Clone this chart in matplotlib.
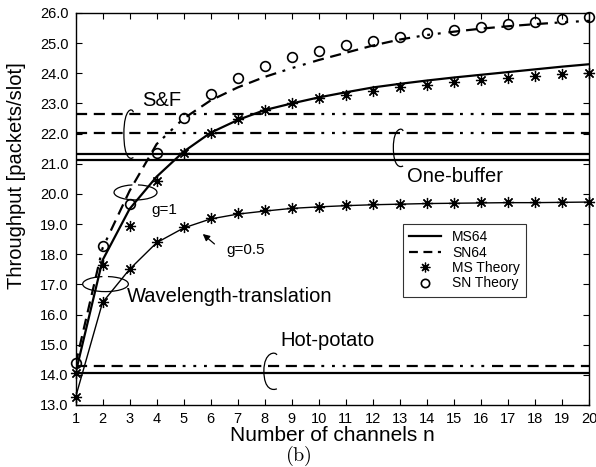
import numpy as np
import matplotlib
matplotlib.use("Agg")
import matplotlib.pyplot as plt
from matplotlib.lines import Line2D
from matplotlib.patches import Arc, PathPatch
from matplotlib.path import Path
from matplotlib.legend_handler import HandlerLine2D

plt.rcParams['font.family'] = ['Liberation Sans', 'DejaVu Sans']
plt.rcParams['mathtext.fontset'] = 'cm'

# number of channels
n = np.arange(1, 21)

# g = 1 curves
ms64_g1 = [14.05, 17.8, 19.5, 20.57, 21.4, 22.03, 22.45, 22.78, 23.0, 23.2,
           23.37, 23.53, 23.65, 23.76, 23.86, 23.95, 24.04, 24.13, 24.22, 24.3]
sn64_g1 = [14.35, 18.2, 20.1, 21.65, 22.5, 23.1, 23.53, 23.88, 24.17, 24.44,
           24.68, 24.92, 25.12, 25.27, 25.38, 25.48, 25.56, 25.63, 25.69, 25.74]
ms_theory_g1 = [14.05, 17.64, 18.95, 20.42, 21.37, 22.03, 22.5, 22.78, 23.03, 23.17,
                23.28, 23.41, 23.53, 23.61, 23.71, 23.79, 23.86, 23.91, 23.97, 24.02]
sn_theory_g1 = [14.38, 18.27, 19.68, 21.37, 22.52, 23.3, 23.86, 24.23, 24.53, 24.75,
                24.95, 25.07, 25.21, 25.33, 25.44, 25.53, 25.64, 25.71, 25.79, 25.88]

# g = 0.5 curves
ms64_g05 = [13.25, 16.4, 17.5, 18.38, 18.87, 19.17, 19.33, 19.43, 19.52, 19.57,
            19.61, 19.64, 19.66, 19.68, 19.69, 19.7, 19.71, 19.71, 19.72, 19.73]
ms_theory_g05 = [13.25, 16.4, 17.5, 18.4, 18.89, 19.19, 19.36, 19.47, 19.54, 19.58,
                 19.62, 19.66, 19.68, 19.71, 19.71, 19.72, 19.72, 19.72, 19.73, 19.74]

# constant schemes: (MS64, SN64)
hot_potato = [14.05, 14.30]
one_buffer = [21.11, 21.33]
store_fwd = [22.03, 22.65]

yticks = np.arange(13.0, 26.5, 1.0)

DASH = (0, (5, 3, 5, 3, 5, 3, 5, 3, 5, 3, 5, 3, 1.3, 3.5, 1.3, 3.5, 1.3, 3.5))
LW = 1.6
STAR = (8, 2, 0)  # matlab style asterisk


class RightMarker(HandlerLine2D):
    # legend marker drawn at the right end of the sample, like the original
    def get_xdata(self, legend, xdescent, ydescent, width, height, fontsize):
        xdata = np.array([-xdescent, -xdescent + width])
        return xdata, np.array([-xdescent + width - 1.5])


def bracket(ax, xl, xr, yt, yb, lw=0.9):
    ym = (yt + yb) / 2
    h = yt - yb
    verts = [(xr, yt - 0.08 * h), (xr - 0.1 * (xr - xl), yt + 0.02 * h), (xl, yt), (xl, ym),
             (xl, yb), (xr - 0.3 * (xr - xl), yb - 0.02 * h), (xr, yb + 0.03 * h)]
    codes = [Path.MOVETO] + [Path.CURVE4] * 6
    ax.add_patch(PathPatch(Path(verts, codes), fill=False, lw=lw, color='k', clip_on=False))


fig = plt.figure(figsize=(5.96, 4.67), dpi=100)
ax = fig.add_axes([0.1267, 0.1328, 0.8616, 0.8394])

# horizontal reference schemes
ax.axhline(hot_potato[0], color='k', lw=LW)
ax.axhline(hot_potato[1], color='k', lw=LW, ls=DASH)
ax.axhline(one_buffer[0], color='k', lw=LW)
ax.axhline(one_buffer[1], color='k', lw=LW)
ax.axhline(store_fwd[0], color='k', lw=LW, ls=DASH)
ax.axhline(store_fwd[1], color='k', lw=LW, ls=DASH)

# wavelength translation curves
ax.plot(n, ms64_g1, color='k', lw=LW)
ax.plot(n, sn64_g1, color='k', lw=LW, ls=DASH)
ax.plot(n, ms64_g05, color='k', lw=1.0)
ax.plot(n, ms_theory_g1, ls='none', marker=STAR, ms=8, mew=0.9, color='k', clip_on=False)
ax.plot(n, ms_theory_g05, ls='none', marker=STAR, ms=8, mew=0.9, color='k', clip_on=False)
ax.plot(n, sn_theory_g1, ls='none', marker='o', ms=7, mew=1.2, mfc='none', mec='k', clip_on=False)

ax.set_xlim(1, 20)
ax.set_ylim(13, 26)
ax.set_xticks(n)
ax.set_yticks(yticks)
ax.set_yticklabels(['%.1f' % v for v in yticks])
ax.tick_params(direction='in', length=4, width=0.8, top=True, right=True,
               labelsize=10.5, pad=5)
for s in ax.spines.values():
    s.set_linewidth(1.0)

ax.set_xlabel('Number of channels n', fontsize=15)
ax.xaxis.set_label_coords(0.5, -0.054)
ax.set_ylabel('Throughput [packets/slot]', fontsize=14.5)
ax.yaxis.set_label_coords(-0.097, 0.585)
fig.text(0.5, 0.024, r'$(\mathrm{b})$', ha='center', va='center', fontsize=14.5)

# annotations
ax.text(3.46, 23.11, 'S&F', fontsize=14.5, va='center')
bracket(ax, 2.79, 3.14, 22.84, 21.16)
ax.text(13.28, 20.57, 'One-buffer', fontsize=14.5, va='center')
bracket(ax, 12.76, 13.12, 22.19, 20.89)
ax.text(8.57, 15.15, 'Hot-potato', fontsize=14.5, va='center')
bracket(ax, 7.97, 8.45, 14.76, 13.5)
ax.text(2.89, 16.59, 'Wavelength-translation', fontsize=14.5, va='center')
ax.add_patch(Arc((2.11, 17.01), 1.69, 0.5, theta1=115, theta2=70, lw=0.9, color='k'))
ax.text(3.82, 19.47, 'g=1', fontsize=11, va='center')
ax.add_patch(Arc((3.22, 20.05), 1.59, 0.5, theta1=115, theta2=70, lw=0.9, color='k'))
ax.text(6.57, 18.14, 'g=0.5', fontsize=11, va='center')
ax.annotate('', xy=(5.63, 18.73), xytext=(6.22, 18.28),
            arrowprops=dict(arrowstyle='-|>', color='k', lw=0.9, mutation_scale=10))

handles = [Line2D([], [], color='k', lw=LW),
           Line2D([], [], color='k', lw=LW, ls=(0, (4, 2.5))),
           Line2D([], [], ls='none', marker=STAR, ms=7, mew=0.9, color='k'),
           Line2D([], [], ls='none', marker='o', ms=6, mew=1.2, mfc='none', mec='k')]
labels = ['MS64', 'SN64', 'MS Theory', 'SN Theory']
leg = ax.legend(handles, labels, loc='upper left', bbox_to_anchor=(0.6757, 0.5203),
                bbox_transform=fig.transFigure, fontsize=10, frameon=True, fancybox=False,
                handlelength=2.3, handletextpad=0.8, labelspacing=0.1, borderpad=0.45,
                borderaxespad=0, handler_map={handles[2]: RightMarker(), handles[3]: RightMarker()})
leg.get_frame().set_edgecolor('k')
leg.get_frame().set_linewidth(0.8)

fig.savefig('out.png', dpi=100)
